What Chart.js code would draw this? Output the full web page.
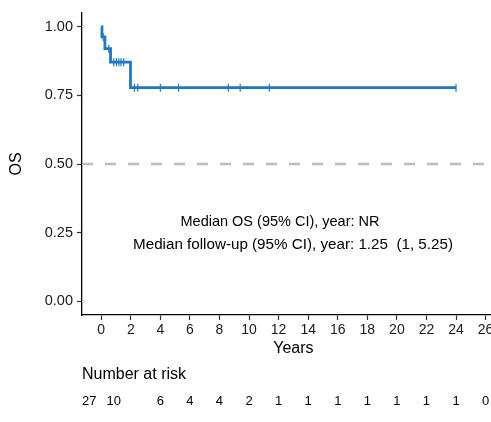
<!DOCTYPE html>
<html>
<head>
<meta charset="utf-8">
<script src="https://cdn.jsdelivr.net/npm/chart.js@4"></script>
<style>
  html, body { margin: 0; padding: 0; background: #fff; overflow: hidden; }
  #wrap { width: 491px; height: 422px; overflow: hidden; }
  canvas { display: block; }
</style>
</head>
<body>
<div id="wrap"><canvas id="km" width="510" height="422"></canvas></div>
<script>
// --- datos ---
// curva Kaplan-Meier (tiempo en años, supervivencia)
const kmTimes = [0, 0.05, 0.25, 0.63, 1.98, 24];
const kmSurv  = [1.00, 0.963, 0.920, 0.871, 0.778, 0.778];

// censuras (+)
const censorTimes = [0.13, 0.51, 0.85, 1.03, 1.19, 1.34, 1.52, 2.25, 2.47, 4.0, 5.23, 8.6, 9.4, 11.37, 24];
const censorSurv  = [0.963, 0.920, 0.871, 0.871, 0.871, 0.871, 0.871, 0.778, 0.778, 0.778, 0.778, 0.778, 0.778, 0.778, 0.778];

// ejes
const xTicks = [0, 2, 4, 6, 8, 10, 12, 14, 16, 18, 20, 22, 24, 26];
const yTicks = [0, 0.25, 0.5, 0.75, 1.0];

// tabla de pacientes en riesgo
const riskTimes  = [0, 2, 4, 6, 8, 10, 12, 14, 16, 18, 20, 22, 24, 26];
const riskCounts = [27, 10, 6, 4, 4, 2, 1, 1, 1, 1, 1, 1, 1, 0];

const medianLine = 0.5;
const annotLines = [
    'Median OS (95% CI), year: NR',
    'Median follow-up (95% CI), year: 1.25  (1, 5.25)'
];

const X_MIN = -1.3, X_MAX = 27.3;
const BLUE = '#1f77c6';
const FONT = 'Liberation Sans, Arial, sans-serif';

// --- texto extra: anotaciones y tabla de riesgo ---
const extrasPlugin = {
    id: 'extras',
    afterDraw(chart) {
        const ctx = chart.ctx;
        const xs = chart.scales.x;
        ctx.save();
        ctx.fillStyle = '#000';
        ctx.textBaseline = 'middle';
        ctx.textAlign = 'center';
        ctx.font = '14.5px ' + FONT;
        ctx.fillText(annotLines[0], 280, 222);
        ctx.font = '15.2px ' + FONT;
        ctx.fillText(annotLines[1], 293, 245);

        ctx.textAlign = 'left';
        ctx.font = '16px ' + FONT;
        ctx.fillText('Number at risk', 82, 375);

        ctx.textAlign = 'center';
        ctx.font = '13px ' + FONT;
        // los dos primeros valores aparecen desplazados a la izquierda en el original
        const nudge = [-12, -17];
        riskTimes.forEach((t, i) => {
            const px = xs.getPixelForValue(t) + (nudge[i] || 0);
            ctx.fillText(String(riskCounts[i]), px, 401);
        });
        ctx.restore();
    }
};

const ctx = document.getElementById('km').getContext('2d');
new Chart(ctx, {
    type: 'line',
    data: {
        datasets: [
            {
                // línea de la mediana
                data: [{x: X_MIN, y: medianLine}, {x: X_MAX, y: medianLine}],
                borderColor: '#bdbdbd',
                borderWidth: 2.5,
                borderDash: [11, 12],
                pointRadius: 0,
                order: 3
            },
            {
                data: kmTimes.map((t, i) => ({x: t, y: kmSurv[i]})),
                borderColor: BLUE,
                borderWidth: 2.8,
                stepped: true,
                pointRadius: 0,
                order: 1
            },
            {
                type: 'scatter',
                data: censorTimes.map((t, i) => ({x: t, y: censorSurv[i]})),
                pointStyle: 'line',
                rotation: 90,
                radius: 4,
                borderColor: BLUE,
                borderWidth: 1.2,
                order: 2
            }
        ]
    },
    options: {
        responsive: false,
        animation: false,
        layout: { padding: { top: 13, right: 4, left: 0, bottom: 60 } },
        plugins: {
            legend: { display: false },
            tooltip: { enabled: false }
        },
        scales: {
            x: {
                type: 'linear',
                min: X_MIN,
                max: X_MAX,
                afterBuildTicks: s => { s.ticks = xTicks.map(v => ({value: v})); },
                afterFit: s => { s.height = 47; },
                grid: { display: true, drawOnChartArea: false, drawTicks: true, tickLength: 5, tickColor: '#333', tickWidth: 1.2 },
                border: { display: true, color: '#000', width: 1.3 },
                ticks: { color: '#1a1a1a', font: { family: FONT, size: 14 }, padding: 2, maxRotation: 0, autoSkip: false },
                title: { display: true, text: 'Years', color: '#000', font: { family: FONT, size: 16 }, padding: { top: 0, bottom: 4 } }
            },
            y: {
                type: 'linear',
                min: -0.05,
                max: 1.05,
                afterBuildTicks: s => { s.ticks = yTicks.map(v => ({value: v})); },
                afterFit: s => { s.width = 82; },
                grid: { display: true, drawOnChartArea: false, drawTicks: true, tickLength: 5, tickColor: '#333', tickWidth: 1.2 },
                border: { display: true, color: '#000', width: 1.3 },
                ticks: { color: '#1a1a1a', font: { family: FONT, size: 14.5 }, padding: 4, callback: v => v.toFixed(2) },
                title: { display: true, text: 'OS', color: '#000', font: { family: FONT, size: 16 }, padding: { top: 7, bottom: 0 } }
            }
        }
    },
    plugins: [extrasPlugin]
});
</script>
</body>
</html>
